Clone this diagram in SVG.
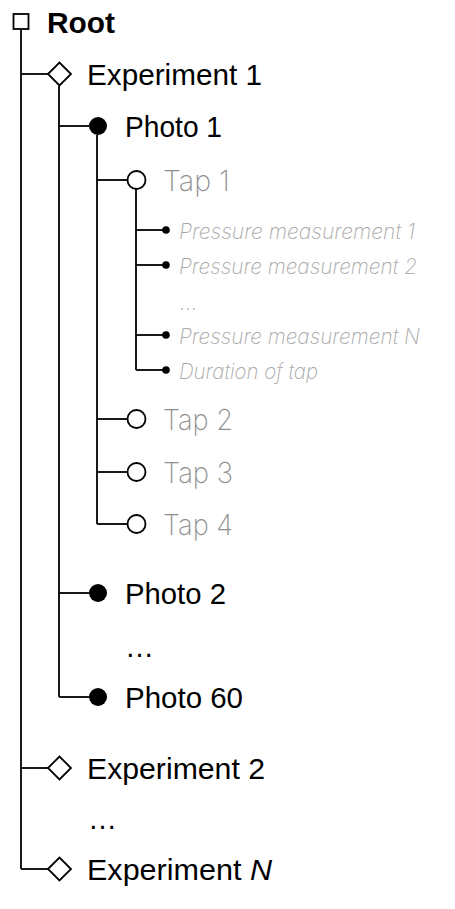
<svg xmlns="http://www.w3.org/2000/svg" width="455" height="909" viewBox="0 0 455 909">
<style>
.ln{stroke:#000;stroke-width:1.8;fill:none}
.nd{stroke:#000;stroke-width:1.8;fill:#fff}
.fl{fill:#000}
.t{font-family:"Liberation Sans",Arial,sans-serif;font-size:29px;fill:#000}
.b{font-weight:bold}
.tap{font-family:Inter,"Liberation Sans",Arial,sans-serif;font-size:29px;fill:#909090;font-weight:200}
.pm{font-family:Inter,"Liberation Sans",Arial,sans-serif;font-size:21px;fill:#a8a8a8;font-style:italic;font-weight:200}
</style>
<rect width="455" height="909" fill="#fff"/>
<g id="connectors">
<line class="ln" x1="21" y1="29" x2="21" y2="869"/>
<line class="ln" x1="59" y1="86" x2="59" y2="697"/>
<line class="ln" x1="97" y1="135" x2="97" y2="524"/>
<line class="ln" x1="136" y1="189" x2="136" y2="370"/>
<line class="ln" x1="21" y1="74" x2="48" y2="74"/>
<line class="ln" x1="59" y1="126" x2="89" y2="126"/>
<line class="ln" x1="97" y1="180" x2="127" y2="180"/>
<line class="ln" x1="136" y1="230" x2="166" y2="230"/>
<line class="ln" x1="136" y1="265" x2="166" y2="265"/>
<line class="ln" x1="136" y1="335" x2="166" y2="335"/>
<line class="ln" x1="136" y1="370" x2="166" y2="370"/>
<line class="ln" x1="97" y1="419" x2="127" y2="419"/>
<line class="ln" x1="97" y1="472" x2="127" y2="472"/>
<line class="ln" x1="97" y1="524" x2="127" y2="524"/>
<line class="ln" x1="59" y1="593" x2="89" y2="593"/>
<line class="ln" x1="59" y1="697" x2="89" y2="697"/>
<line class="ln" x1="21" y1="768" x2="48" y2="768"/>
<line class="ln" x1="21" y1="869" x2="48" y2="869"/>
</g>
<g id="root"><rect class="nd" x="13.5" y="14" width="15" height="15"/><text class="t b" x="47" y="33" textLength="68" lengthAdjust="spacingAndGlyphs">Root</text></g>
<g id="exp1"><polygon class="nd" points="48,74 59.5,62.5 71,74 59.5,85.5"/><text class="t" x="87" y="85" textLength="175" lengthAdjust="spacingAndGlyphs">Experiment 1</text></g>
<g id="photo1"><circle class="fl" cx="98" cy="126" r="9"/><text class="t" x="125" y="137" textLength="97" lengthAdjust="spacingAndGlyphs">Photo 1</text></g>
<g id="tap1"><circle class="nd" cx="136.5" cy="180" r="9"/><text class="tap" x="163" y="191" textLength="67" lengthAdjust="spacingAndGlyphs">Tap 1</text></g>
<g id="pm1"><circle class="fl" cx="166" cy="230" r="3.8"/><text class="pm" x="179" y="238.5" textLength="236" lengthAdjust="spacingAndGlyphs">Pressure measurement 1</text></g>
<g id="pm2"><circle class="fl" cx="166" cy="265" r="3.8"/><text class="pm" x="179" y="273.5" textLength="238" lengthAdjust="spacingAndGlyphs">Pressure measurement 2</text></g>
<g id="pmdots"><text class="pm" x="180" y="310">…</text></g>
<g id="pmN"><circle class="fl" cx="166" cy="335" r="3.8"/><text class="pm" x="179" y="343.5" textLength="241" lengthAdjust="spacingAndGlyphs">Pressure measurement N</text></g>
<g id="duration"><circle class="fl" cx="166" cy="370" r="3.8"/><text class="pm" x="179" y="378.5" textLength="139" lengthAdjust="spacingAndGlyphs">Duration of tap</text></g>
<g id="tap2"><circle class="nd" cx="136.5" cy="419" r="9"/><text class="tap" x="163" y="430" textLength="70" lengthAdjust="spacingAndGlyphs">Tap 2</text></g>
<g id="tap3"><circle class="nd" cx="136.5" cy="472" r="9"/><text class="tap" x="163" y="483" textLength="70" lengthAdjust="spacingAndGlyphs">Tap 3</text></g>
<g id="tap4"><circle class="nd" cx="136.5" cy="524" r="9"/><text class="tap" x="163" y="535" textLength="70" lengthAdjust="spacingAndGlyphs">Tap 4</text></g>
<g id="photo2"><circle class="fl" cx="98" cy="593" r="9"/><text class="t" x="125" y="604" textLength="101" lengthAdjust="spacingAndGlyphs">Photo 2</text></g>
<g id="photodots"><text class="t" x="125" y="657">…</text></g>
<g id="photo60"><circle class="fl" cx="98" cy="697" r="9"/><text class="t" x="125" y="708" textLength="118" lengthAdjust="spacingAndGlyphs">Photo 60</text></g>
<g id="exp2"><polygon class="nd" points="48,768 59.5,756.5 71,768 59.5,779.5"/><text class="t" x="87" y="779" textLength="178" lengthAdjust="spacingAndGlyphs">Experiment 2</text></g>
<g id="expdots"><text class="t" x="88" y="829">…</text></g>
<g id="expN"><polygon class="nd" points="48,869 59.5,857.5 71,869 59.5,880.5"/><text class="t" x="87" y="880" textLength="185" lengthAdjust="spacingAndGlyphs">Experiment <tspan font-style="italic">N</tspan></text></g>
</svg>
